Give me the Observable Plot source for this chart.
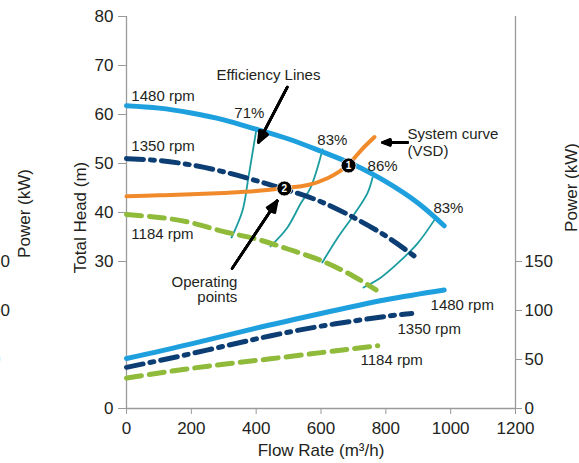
<!DOCTYPE html>
<html><head><meta charset="utf-8">
<script src="https://cdn.jsdelivr.net/npm/d3@7"></script>
<script src="https://cdn.jsdelivr.net/npm/@observablehq/plot@0.6"></script>
<style>body{margin:0;background:#fff} #chart svg{display:block}</style>
</head><body><div id="chart"></div>
<script>
// ---- Pump head curves (flow m3/h, head m)
const flow1480 = [0,100,200,300,400,500,600,700,800,900,980];
const head1480 = [61.8,61.3,60.3,58.9,57.0,55.0,52.5,49.8,46.3,41.9,37.3];
const flow1350 = [0,100,200,300,400,500,600,700,800,890];
const head1350 = [51.0,50.6,49.7,48.3,46.5,44.5,42.2,39.0,35.2,31.0];
const flow1184 = [0,100,200,300,400,500,600,700,770];
const head1184 = [39.6,39.0,37.9,36.1,34.6,32.5,30.2,27.0,24.2];
// ---- System curve (VSD)
const flowSystem = [0,100,200,300,400,487,560,620,655,685,725,765];
const headSystem = [43.3,43.5,43.7,44.0,44.4,45.0,45.6,47.0,48.3,49.8,52.8,55.4];
// ---- Efficiency lines
const eff71Flow = [401,376,358,324];           const eff71Head = [57.1,47.1,40.4,34.9];
const eff83aFlow = [605,568,537,496,444];      const eff83aHead = [52.9,45.1,41.8,36.9,33.1];
const eff86Flow = [759,743,700,650,604];       const eff86Head = [47.1,43.9,39.4,34.7,29.8];
const eff83bFlow = [953,898,836,784,731];      const eff83bHead = [38.8,33.7,29.6,26.7,24.7];
// ---- Power curves (flow m3/h, power kW)
const flowP1480 = [0,200,400,600,800,980];  const power1480 = [51,66,82,97,111,121];
const flowP1350 = [0,200,400,600,800,880];  const power1350 = [42,56,71,84,94,97];
const flowP1184 = [0,200,400,600,775];      const power1184 = [31,41,49,57,64];
const kWPerMetre = 5; // power axis: 150 kW sits at 30 m
// ---- Operating points
const opFlow = [685,487]; const opHead = [49.6,44.9]; const opLabel = ["1","2"];
// ---- Ticks
const xTicks = [0,200,400,600,800,1000,1200];
const headTicks = [0,30,40,50,60,70,80];
const powerTicks = [0,50,100,150];
// ---- Annotations
const annoText = ["1480 rpm","1350 rpm","1184 rpm","71%","83%","86%","83%","Efficiency Lines","1480 rpm","1350 rpm","1184 rpm"];
const annoFlow = [15,15,15,379,635,790,993,438,938,836,722];
const annoHead = [63.7,53.5,35.5,60.2,54.7,49.4,40.8,68.0,21.0,16.1,9.8];
const annoAnchor = ["start","start","start","middle","middle","middle","middle","middle","start","start","start"];
const noteText = ["System curve\n(VSD)","Operating\npoints"];
const noteFlow = [867,342]; const noteHead = [54.4,24.2]; const noteAnchor = ["start","end"];
const arrowFromFlow = [496,867,326]; const arrowFromHead = [65.6,54.3,28.6];
const arrowToFlow = [407,790,465];   const arrowToHead = [54.3,54.3,42.4];
const titles = {head:"Total Head (m)", flow:"Flow Rate (m³/h)", power:"Power (kW)"};

const rows = (xs, ys) => xs.map((x,i) => ({x, y: ys[i]}));
const prow = (xs, ps) => xs.map((x,i) => ({x, y: ps[i]/kWPerMetre}));

const cBlue="#1fa0de", cNavy="#0c3e73", cGreen="#8fba3a", cOrange="#f08a2a", cTeal="#1b9ca0", cAxis="#9a9a9a", cText="#231f20";
const anno = annoText.map((t,i)=>({t, x:annoFlow[i], y:annoHead[i], a:annoAnchor[i]}));
const notes = noteText.map((t,i)=>({t, x:noteFlow[i], y:noteHead[i], a:noteAnchor[i]}));
const arrows = arrowFromFlow.map((x,i)=>({x1:x, y1:arrowFromHead[i], x2:arrowToFlow[i], y2:arrowToHead[i]}));
const ops = opFlow.map((x,i)=>({x, y:opHead[i], t:opLabel[i]}));

const effLines = [rows(eff71Flow,eff71Head), rows(eff83aFlow,eff83aHead), rows(eff86Flow,eff86Head), rows(eff83bFlow,eff83bHead)];
const axisFont = 17;

const arrowMarks = [45,32,20,8].map(a => Plot.arrow(arrows, {x1:"x1",y1:"y1",x2:"x2",y2:"y2", stroke:"#000", strokeWidth:2.6, headAngle:a, headLength:7}));
const annoMarks = ["start","middle","end"].map(a => Plot.text(anno, {filter: d => d.a === a, x:"x", y:"y", text:"t", textAnchor: a, fontSize: 15, fill: cText}));
const noteMarks = [
  Plot.text(notes, {filter: d => d.a === "start", x:"x", y:"y", text:"t", textAnchor: "start", lineHeight: 1.13, fontSize: 15, fill: cText}),
  Plot.text(notes, {filter: d => d.a === "end", x:"x", y:"y", text:"t", textAnchor: "end", lineHeight: 1.0, fontSize: 15, fill: cText})
];
const title = (t, o) => Plot.text([t], {text: d=>d, textAnchor: "middle", lineAnchor: "middle", fontSize: axisFont, fill: cText, ...o});

const chart = Plot.plot({
  width: 579, height: 463,
  marginTop: 16, marginBottom: 55, marginLeft: 126, marginRight: 64,
  x: {domain: [0,1200]},
  y: {domain: [0,80]},
  style: {fontFamily: "'Liberation Sans', Arial, sans-serif", fontSize: "15px", color: cText, background: "#fff"},
  marks: [
    Plot.ruleX([0], {stroke: cAxis, strokeWidth: 1.3}),
    Plot.ruleX([1200], {stroke: cAxis, strokeWidth: 1.3}),
    Plot.ruleY([0], {stroke: cAxis, strokeWidth: 1.3}),
    Plot.axisX({ticks: xTicks, tickFormat: d => String(d), tickSize: 6, tickPadding: 7, fontSize: axisFont, stroke: cAxis, fill: cText, label: null}),
    Plot.axisY({ticks: headTicks, anchor: "left", tickSize: 8, tickPadding: 5, fontSize: axisFont, stroke: cAxis, fill: cText, label: null}),
    Plot.axisY({ticks: powerTicks.map(p=>p/kWPerMetre), anchor: "right", tickFormat: d => String(d*kWPerMetre), tickSize: 6, tickPadding: 3, fontSize: axisFont, stroke: cAxis, fill: cText, label: null}),
    Plot.axisY({ticks: powerTicks.map(p=>p/kWPerMetre), anchor: "right", dx: -543, tickFormat: d => String(d*kWPerMetre), tickSize: 6, tickPadding: 3, fontSize: axisFont, stroke: cAxis, fill: cText, label: null}),
    title(titles.head, {frameAnchor: "left", rotate: -90, dx: -46, dy: 5}),
    title(titles.flow, {frameAnchor: "bottom", dy: 42}),
    title(titles.power, {frameAnchor: "right", rotate: -90, dx: 56, dy: -25}),
    title(titles.power, {frameAnchor: "left", rotate: -90, dx: -102, dy: 1}),
    ...effLines.map(d => Plot.line(d, {x:"x", y:"y", stroke: cTeal, strokeWidth: 1.8, curve: "catmull-rom"})),
    Plot.line(rows(flow1350, head1350), {x:"x", y:"y", stroke: cNavy, strokeWidth: 5, strokeDasharray: "17,7,4,7", curve: "natural"}),
    Plot.line(rows(flow1184, head1184), {x:"x", y:"y", stroke: cGreen, strokeWidth: 5, strokeDasharray: "15,8", curve: "natural"}),
    Plot.line(rows(flow1480, head1480), {x:"x", y:"y", stroke: cBlue, strokeWidth: 5, curve: "natural"}),
    Plot.line(prow(flowP1350, power1350), {x:"x", y:"y", stroke: cNavy, strokeWidth: 5, strokeDasharray: "17,7,4,7", curve: "natural"}),
    Plot.line(prow(flowP1184, power1184), {x:"x", y:"y", stroke: cGreen, strokeWidth: 5, strokeDasharray: "15,8", curve: "natural"}),
    Plot.line(prow(flowP1480, power1480), {x:"x", y:"y", stroke: cBlue, strokeWidth: 5, curve: "natural"}),
    Plot.line(rows(flowSystem, headSystem), {x:"x", y:"y", stroke: cOrange, strokeWidth: 4, curve: "catmull-rom"}),
    Plot.dot(ops, {x:"x", y:"y", r: 7.5, fill: "#000", stroke: "#fff", strokeWidth: 0.8}),
    Plot.text(ops, {x:"x", y:"y", text:"t", fill:"#fff", fontWeight:"bold", fontSize: 10}),
    ...arrowMarks,
    ...annoMarks,
    ...noteMarks
  ]
});
document.getElementById("chart").appendChild(chart);
</script>
</body></html>
